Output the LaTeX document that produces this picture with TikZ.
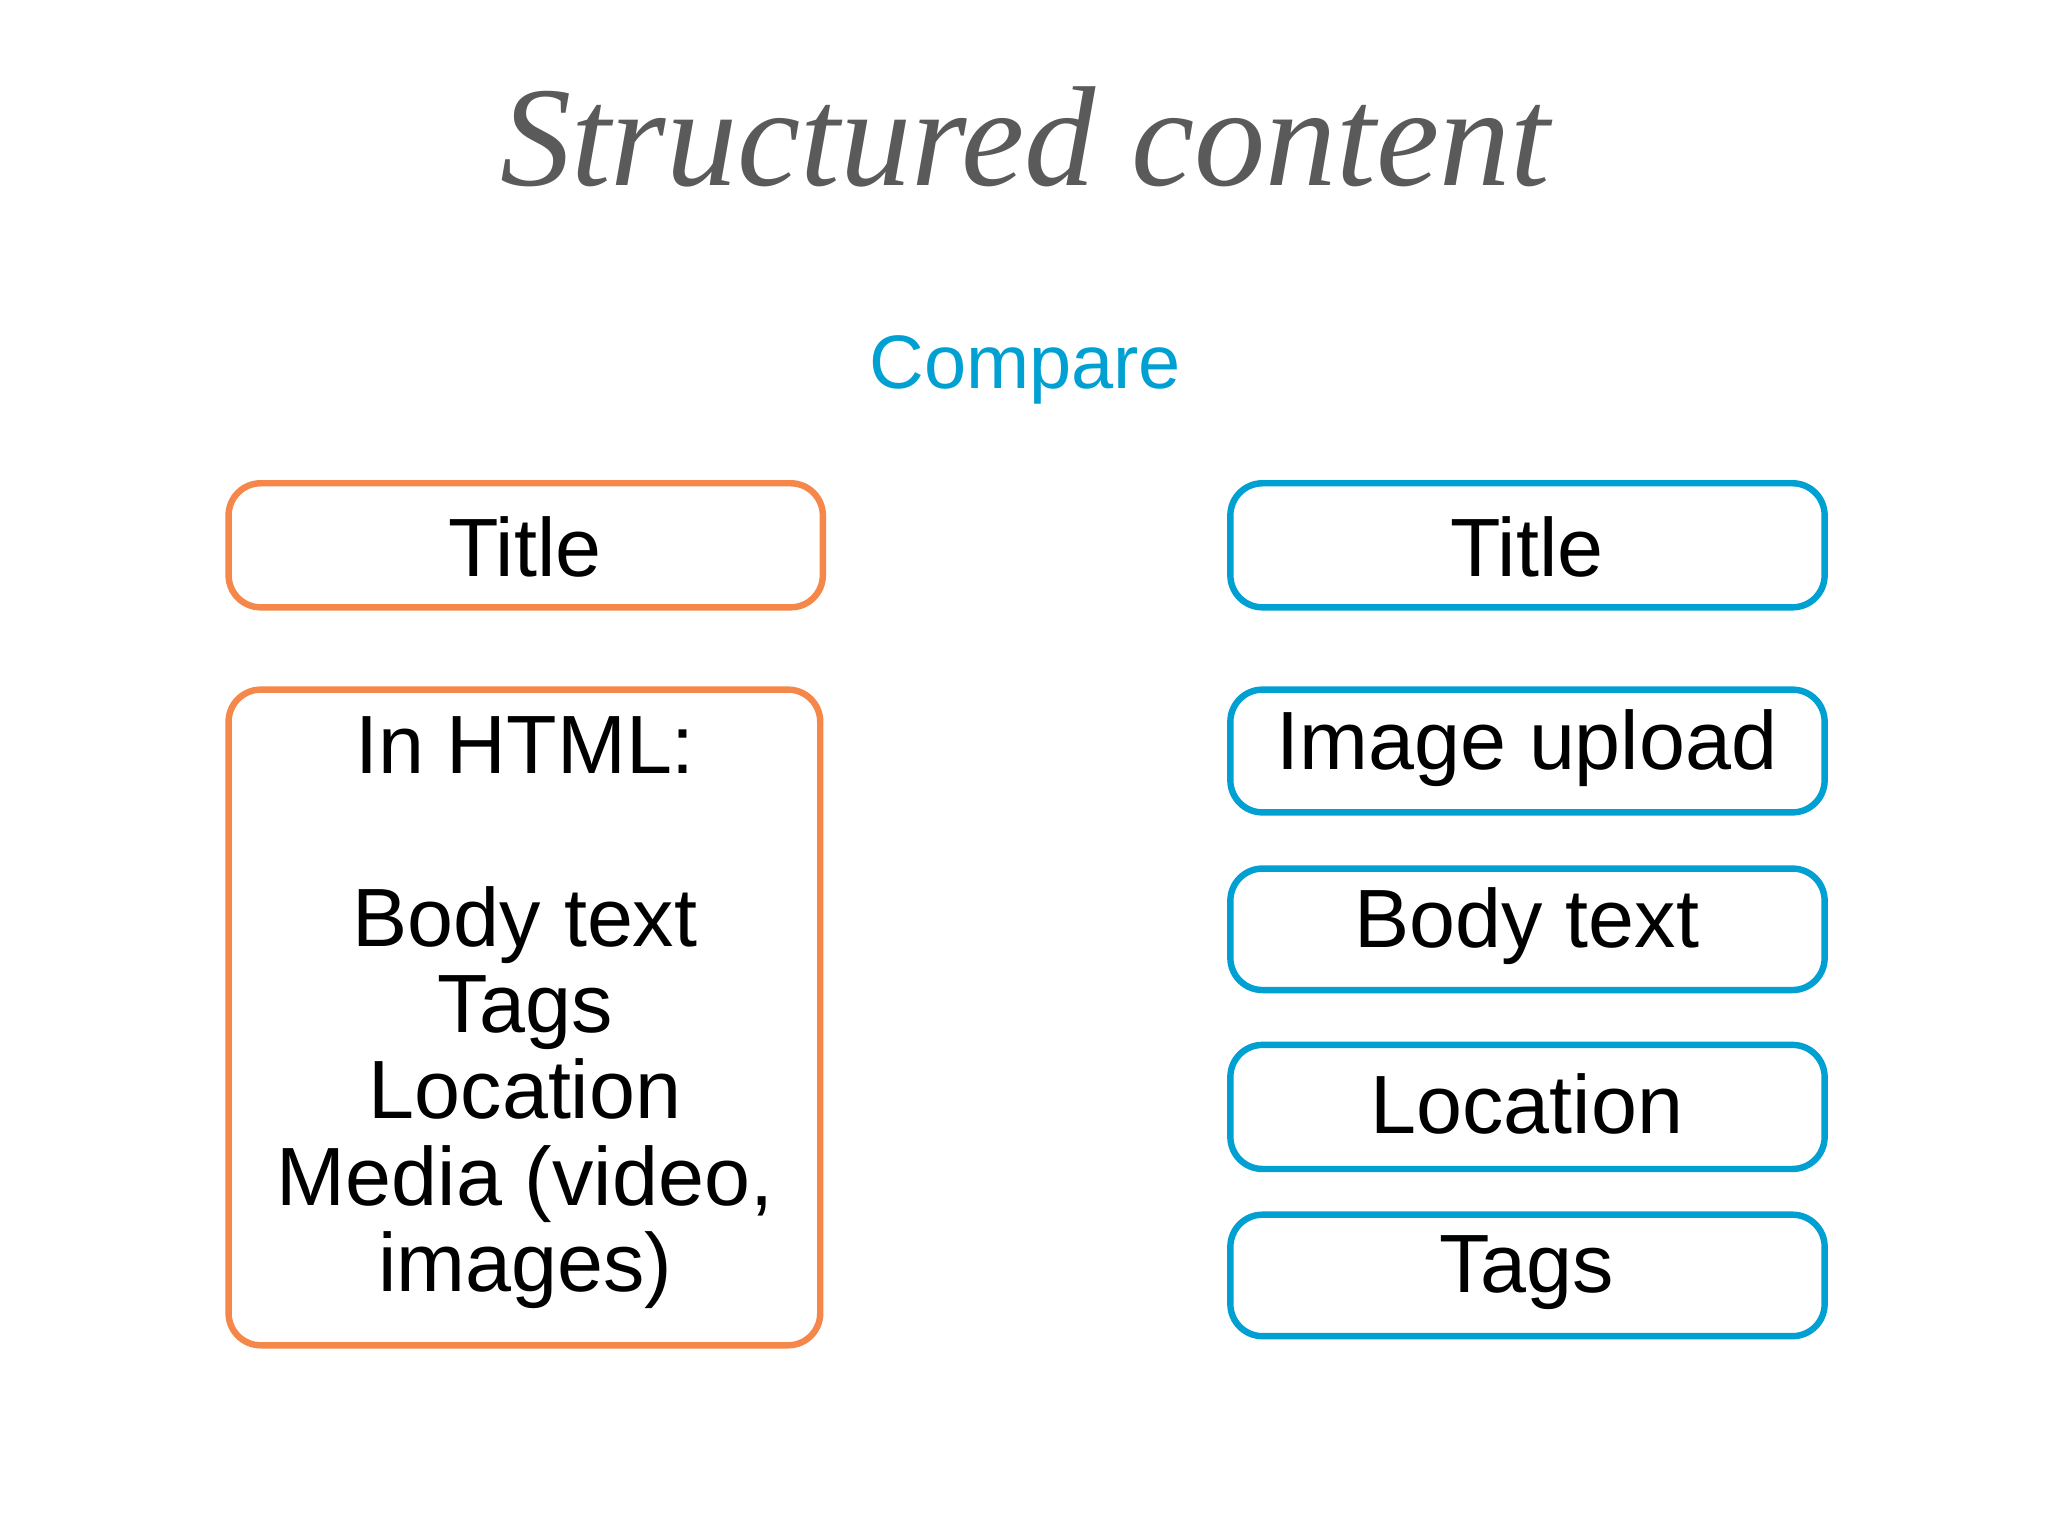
\documentclass[tikz,border=0pt]{standalone}
\usepackage{fontspec}
\setmainfont{Liberation Sans}
\newfontfamily\titlefont{Liberation Serif}
\definecolor{orng}{RGB}{245,135,75}
\definecolor{blu}{RGB}{0,160,210}
\definecolor{tgray}{RGB}{90,90,90}
\begin{document}
\begin{tikzpicture}[x=0.01cm,y=-0.01cm,
  obox/.style={draw=orng,line width=1.4pt,rounded corners=7pt,fill=white},
  bbox/.style={draw=blu,line width=1.4pt,rounded corners=7pt,fill=white},
  lbl/.style={font=\fontsize{18}{18.8}\selectfont,align=center,inner sep=0pt}]
\useasboundingbox (0,0) rectangle (1568,1176);
\fill[white] (0,0) rectangle (1568,1176);
\node[font=\titlefont\itshape\fontsize{31}{36}\selectfont,text=tgray] (head) at (785,105) {Structured content};
\node[font=\fontsize{16.5}{20}\selectfont,text=blu] (cmp) at (785,283) {Compare};
% left
\draw[obox] (175,370) rectangle (630,465);
\node[lbl] (lt) at (402,419) {Title};
\draw[obox] (175,528) rectangle (628,1030);
\node[lbl,anchor=north] (lhtml) at (402,548) {In HTML:\\[18.8pt]Body text\\Tags\\Location\\Media (video,\\images)};
% right
\draw[bbox] (942,370) rectangle (1397,465);
\node[lbl] (rt) at (1169,419) {Title};
\draw[bbox] (942,528) rectangle (1397,622);
\node[lbl] (ri) at (1169,573) {Image upload};
\draw[bbox] (942,665) rectangle (1397,758);
\node[lbl] (rb) at (1169,709) {Body text};
\draw[bbox] (942,800) rectangle (1397,895);
\node[lbl] (rl) at (1169,845) {Location};
\draw[bbox] (942,930) rectangle (1397,1023);
\node[lbl] (rg) at (1169,974) {Tags};
\end{tikzpicture}
\end{document}
